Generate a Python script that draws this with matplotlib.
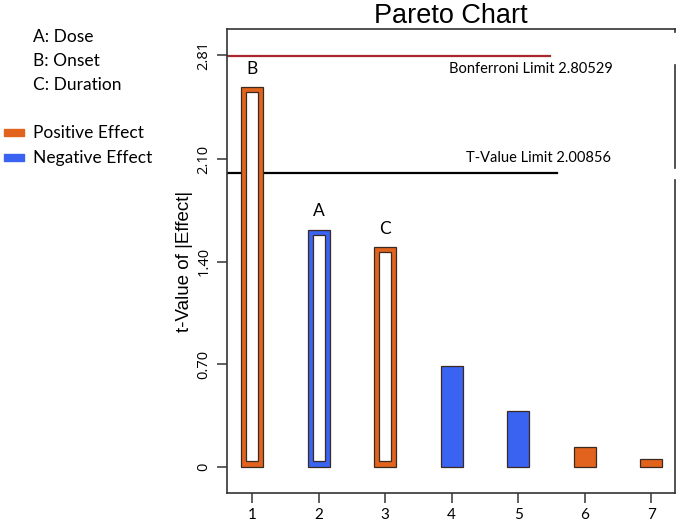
import matplotlib
matplotlib.use('Agg')
import matplotlib.pyplot as plt
from matplotlib.patches import Rectangle

# data
ranks = [1, 2, 3, 4, 5, 6, 7]
t_values = [2.59, 1.62, 1.50, 0.69, 0.38, 0.14, 0.055]
signs = ['pos', 'neg', 'pos', 'neg', 'neg', 'pos', 'pos']
hollow = [True, True, True, False, False, False, False]
bar_labels = ['B', 'A', 'C', '', '', '', '']
y_ticks = [0, 0.70, 1.40, 2.10, 2.81]
y_tick_labels = ['0', '0.70', '1.40', '2.10', '2.81']
bonferroni = 2.80529
t_limit = 2.00856
factor_key = ['A: Dose', 'B: Onset', 'C: Duration']

orange = '#E2631E'
blue = '#3A63F2'
edge = '#3a2a20'
colors = {'pos': orange, 'neg': blue}
sans = ['Lato', 'DejaVu Sans']

fig = plt.figure(figsize=(6.8, 5.26), dpi=100)
ax = fig.add_axes([227/680, 1 - 493/526, 448/680, 464/526])
ax.set_xlim(0.62, 7.36)
ax.set_ylim(-0.177, 2.988)

width = 0.33
for x, v, s, h, lab in zip(ranks, t_values, signs, hollow, bar_labels):
    ax.bar(x, v, width=width, color=colors[s], edgecolor=edge, linewidth=0.9, zorder=2)
    if h:
        ax.bar(x, v - 0.075, bottom=0.04, width=0.18, color='white',
               edgecolor=edge, linewidth=0.9, zorder=3)
    if lab:
        ax.text(x, v + 0.07, lab, ha='center', va='bottom', fontsize=12.5, family=sans)

ax.plot([0.62, 5.48], [bonferroni, bonferroni], color='#A8282C', lw=1.6, zorder=1)
ax.plot([0.62, 5.59], [t_limit, t_limit], color='black', lw=1.6, zorder=1)
ax.text(6.42, bonferroni - 0.04, 'Bonferroni Limit %.5f' % bonferroni,
        ha='right', va='top', fontsize=10.5, family=sans)
ax.text(6.40, t_limit + 0.05, 'T-Value Limit %.5f' % t_limit,
        ha='right', va='bottom', fontsize=10.5, family=sans)

ax.set_yticks(y_ticks)
ax.set_yticklabels(y_tick_labels, rotation=90, va='center', fontsize=10.5,
                   family=['Open Sans', 'DejaVu Sans'])
ax.set_xticks(ranks)
ax.set_xticklabels([str(r) for r in ranks], fontsize=11, family=sans)
ax.tick_params(axis='both', length=7, width=1.2, color='#444444', pad=4)
ax.set_ylabel('t-Value of |Effect|', fontsize=13.5, family='Liberation Sans', labelpad=3)
ax.set_title('Pareto Chart', fontsize=19.5, family='Liberation Sans', pad=2)

for sp in ['left', 'top', 'bottom']:
    ax.spines[sp].set_linewidth(1.2)
    ax.spines[sp].set_color('#333333')
ax.spines['right'].set_visible(False)
# right border is broken in the original
for lo, hi in [(493, 180), (168, 65), (32, 29)]:
    ax.axvline(7.36, ymin=(493 - lo)/464, ymax=(493 - hi)/464, color='#333333',
               lw=1.2, clip_on=False)

# key on the left
for i, t in enumerate(factor_key):
    fig.text(33/680, 1 - (37 + 24*i)/526, t, fontsize=12.5, family=sans, va='center')
for i, (t, c) in enumerate([('Positive Effect', orange), ('Negative Effect', blue)]):
    yy = 1 - (133 + 25*i)/526
    fig.patches.append(Rectangle((4/680, yy - 3/526), 20/680, 7/526, color=c,
                                 transform=fig.transFigure))
    fig.text(33/680, yy, t, fontsize=12.5, family=sans, va='center')

fig.savefig('out.png', dpi=100)
